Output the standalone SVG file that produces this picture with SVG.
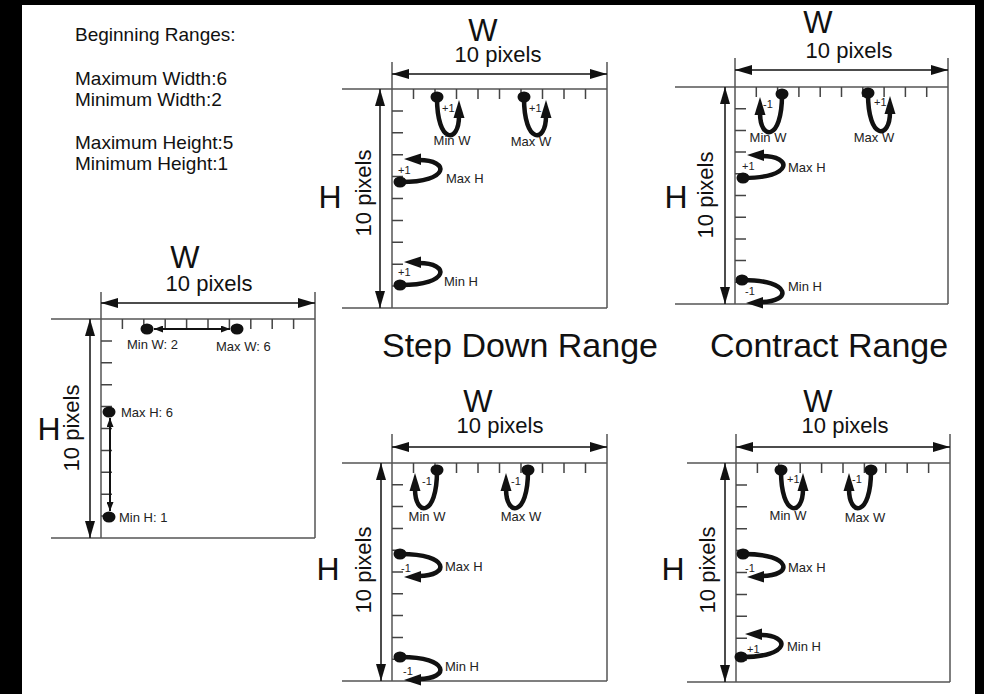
<svg xmlns="http://www.w3.org/2000/svg" width="984" height="694" viewBox="0 0 984 694">
  <style>
    text { font-family: "Liberation Sans", Arial, sans-serif; fill: #111; }
    .box { stroke: #555; stroke-width: 1.5; fill: none; }
    .tick { stroke: #444; stroke-width: 1.5; fill: none; }
    .dim { stroke: #111; stroke-width: 1.5; marker-start: url(#dimArrow); marker-end: url(#dimArrow); }
    .span { stroke: #111; stroke-width: 2; marker-start: url(#smallArrow); marker-end: url(#smallArrow); }
    .big { font-size: 31px; text-anchor: middle; }
    .bigH { font-size: 32px; text-anchor: middle; }
    .px { font-size: 22px; text-anchor: middle; }
    .lbl { font-size: 13px; fill: #222; }
    .mid { text-anchor: middle; }
    .sign { font-size: 11px; fill: #222; }
    .title { font-size: 34px; }
    .note { font-size: 19px; }
    .curve { stroke: #111; stroke-width: 4.5; fill: none; stroke-linecap: round; }
  </style>
  <defs>
    <marker id="dimArrow" viewBox="0 0 17 10" refX="17" refY="5" markerWidth="17" markerHeight="10" markerUnits="userSpaceOnUse" orient="auto-start-reverse">
      <path d="M0,0 L17,5 L0,10 z" fill="#111"/>
    </marker>
    <marker id="smallArrow" viewBox="0 0 9 7" refX="9" refY="3.5" markerWidth="9" markerHeight="7" markerUnits="userSpaceOnUse" orient="auto-start-reverse">
      <path d="M0,0 L9,3.5 L0,7 z" fill="#111"/>
    </marker>
    <!-- width step: dot at origin, loop down, arrow back up on the right -->
    <g id="curlW">
      <ellipse cx="0" cy="0" rx="6.5" ry="5.5" fill="#111"/>
      <path class="curve" d="M0,1 C0,47 22,47 22,19"/>
      <polygon points="22,3 16.5,21 27.5,21" fill="#111"/>
    </g>
    <!-- height step: dot at origin, loop right, arrow back left above -->
    <g id="curlH">
      <ellipse cx="0" cy="0" rx="6.5" ry="5.5" fill="#111"/>
      <path class="curve" d="M1,0 C50,0 50,-22 19,-22"/>
      <polygon points="4,-23 21,-28.5 21,-17" fill="#111"/>
    </g>
  </defs>

  <!-- page -->
  <rect x="0" y="0" width="984" height="694" fill="#000"/>
  <rect x="22" y="5" width="953" height="689" fill="#fff"/>

  <!-- starting ranges -->
  <g id="legend">
    <text class="note" x="75" y="41">Beginning Ranges:</text>
    <text class="note" x="75" y="85">Maximum Width:6</text>
    <text class="note" x="75" y="106">Minimum Width:2</text>
    <text class="note" x="75" y="149">Maximum Height:5</text>
    <text class="note" x="75" y="170">Minimum Height:1</text>
  </g>

  <!-- initial grid -->
  <g id="panel-start">
    <path class="box" d="M51,319 H315 M51,538 H315 M101,292 V538 M315,292 V538"/>
    <path class="tick" d="M122.4,319v10 M143.8,319v10 M165.2,319v10 M186.6,319v10 M208,319v10 M229.4,319v10 M250.8,319v10 M272.2,319v10 M293.6,319v10 M101,340.9h11 M101,362.8h11 M101,384.7h11 M101,406.6h11 M101,428.5h11 M101,450.4h11 M101,472.3h11 M101,494.2h11 M101,516.1h11"/>
    <text class="big" x="185" y="268">W</text>
    <text class="px" x="209" y="291">10 pixels</text>
    <text class="bigH" x="49" y="440">H</text>
    <text class="px" transform="translate(79,428) rotate(-90)">10 pixels</text>
    <text class="lbl" x="127" y="349">Min W: 2</text>
    <text class="lbl" x="216" y="351">Max W: 6</text>
    <text class="lbl" x="121" y="417">Max H: 6</text>
    <text class="lbl" x="119" y="522">Min H: 1</text>
  </g>

  <!-- step down grid (+1) -->
  <g id="panel-stepdown-plus">
    <path class="box" d="M342,89 H607 M342,308 H607 M392,62 V308 M607,62 V308"/>
    <path class="tick" d="M413.5,89v10 M435,89v10 M456.5,89v10 M478,89v10 M499.5,89v10 M521,89v10 M542.5,89v10 M564,89v10 M585.5,89v10 M392,110.9h11 M392,132.8h11 M392,154.7h11 M392,176.6h11 M392,198.5h11 M392,220.4h11 M392,242.3h11 M392,264.2h11 M392,286.1h11"/>
    <text class="big" x="483" y="41">W</text>
    <text class="px" x="498" y="62">10 pixels</text>
    <text class="bigH" x="330" y="208">H</text>
    <text class="px" transform="translate(371,193) rotate(-90)">10 pixels</text>
    <text class="sign" x="442" y="112">+1</text>
    <text class="sign" x="529" y="112">+1</text>
    <text class="sign" x="398" y="174">+1</text>
    <text class="sign" x="398" y="276">+1</text>
    <text class="lbl mid" x="452" y="145">Min W</text>
    <text class="lbl mid" x="531" y="146">Max W</text>
    <text class="lbl" x="446" y="183">Max H</text>
    <text class="lbl" x="444" y="286">Min H</text>
  </g>

  <!-- contract grid -->
  <g id="panel-contract-top">
    <path class="box" d="M675,87 H948 M675,304 H948 M735,58 V304 M948,58 V304"/>
    <path class="tick" d="M756.3,87v10 M777.6,87v10 M798.9,87v10 M820.2,87v10 M841.5,87v10 M862.8,87v10 M884.1,87v10 M905.4,87v10 M926.7,87v10 M735,108.7h11 M735,130.4h11 M735,152.1h11 M735,173.8h11 M735,195.5h11 M735,217.2h11 M735,238.9h11 M735,260.6h11 M735,282.3h11"/>
    <text class="big" x="818" y="33">W</text>
    <text class="px" x="849" y="58">10 pixels</text>
    <text class="bigH" x="676" y="208">H</text>
    <text class="px" transform="translate(713,195) rotate(-90)">10 pixels</text>
    <text class="sign" x="763" y="108">-1</text>
    <text class="sign" x="874" y="106">+1</text>
    <text class="sign" x="742" y="170">+1</text>
    <text class="sign" x="745" y="295">-1</text>
    <text class="lbl mid" x="768" y="142">Min W</text>
    <text class="lbl mid" x="874" y="142">Max W</text>
    <text class="lbl" x="788" y="172">Max H</text>
    <text class="lbl" x="788" y="291">Min H</text>
  </g>

  <!-- step down grid (-1) -->
  <g id="panel-stepdown-minus">
    <path class="box" d="M342,463 H607 M342,681 H607 M392,434 V681 M607,434 V681"/>
    <path class="tick" d="M413.5,463v10 M435,463v10 M456.5,463v10 M478,463v10 M499.5,463v10 M521,463v10 M542.5,463v10 M564,463v10 M585.5,463v10 M392,484.8h11 M392,506.6h11 M392,528.4h11 M392,550.2h11 M392,572h11 M392,593.8h11 M392,615.6h11 M392,637.4h11 M392,659.2h11"/>
    <text class="big" x="478" y="412">W</text>
    <text class="px" x="500" y="433">10 pixels</text>
    <text class="bigH" x="328" y="580">H</text>
    <text class="px" transform="translate(371,570) rotate(-90)">10 pixels</text>
    <text class="sign" x="422" y="485">-1</text>
    <text class="sign" x="511" y="485">-1</text>
    <text class="sign" x="401" y="572">-1</text>
    <text class="sign" x="403" y="675">-1</text>
    <text class="lbl mid" x="427" y="521">Min W</text>
    <text class="lbl mid" x="521" y="521">Max W</text>
    <text class="lbl" x="445" y="571">Max H</text>
    <text class="lbl" x="445" y="671">Min H</text>
  </g>

  <!-- contract grid (mixed) -->
  <g id="panel-contract-bottom">
    <path class="box" d="M687,463 H950 M687,682 H950 M736,434 V682 M950,434 V682"/>
    <path class="tick" d="M757.4,463v10 M778.8,463v10 M800.2,463v10 M821.6,463v10 M843,463v10 M864.4,463v10 M885.8,463v10 M907.2,463v10 M928.6,463v10 M736,484.9h11 M736,506.8h11 M736,528.7h11 M736,550.6h11 M736,572.5h11 M736,594.4h11 M736,616.3h11 M736,638.2h11 M736,660.1h11"/>
    <text class="big" x="818" y="412">W</text>
    <text class="px" x="845" y="433">10 pixels</text>
    <text class="bigH" x="673" y="580">H</text>
    <text class="px" transform="translate(715,570) rotate(-90)">10 pixels</text>
    <text class="sign" x="787" y="483">+1</text>
    <text class="sign" x="852" y="483">-1</text>
    <text class="sign" x="745" y="572">-1</text>
    <text class="sign" x="747" y="653">+1</text>
    <text class="lbl mid" x="788" y="520">Min W</text>
    <text class="lbl mid" x="865" y="522">Max W</text>
    <text class="lbl" x="788" y="572">Max H</text>
    <text class="lbl" x="787" y="651">Min H</text>
  </g>

  <!-- captions -->
  <g id="captions">
    <text class="title" x="382" y="357">Step Down Range</text>
    <text class="title" x="710" y="357">Contract Range</text>
  </g>

  <!-- dimension arrows, range spans and step loops -->
  <g id="connectors">
    <line class="dim" x1="101" y1="303" x2="315" y2="303"/>
    <line class="dim" x1="90" y1="319" x2="90" y2="538"/>
    <line class="dim" x1="392" y1="74" x2="607" y2="74"/>
    <line class="dim" x1="380" y1="89" x2="380" y2="308"/>
    <line class="dim" x1="735" y1="70" x2="948" y2="70"/>
    <line class="dim" x1="725" y1="87" x2="725" y2="304"/>
    <line class="dim" x1="392" y1="447" x2="607" y2="447"/>
    <line class="dim" x1="381" y1="463" x2="381" y2="681"/>
    <line class="dim" x1="736" y1="447" x2="950" y2="447"/>
    <line class="dim" x1="725" y1="463" x2="725" y2="682"/>

    <!-- starting range spans -->
    <ellipse cx="147" cy="329" rx="6.5" ry="5.5" fill="#111"/>
    <ellipse cx="237" cy="329" rx="6.5" ry="5.5" fill="#111"/>
    <line class="span" x1="154" y1="329" x2="230" y2="329"/>
    <ellipse cx="109" cy="412" rx="6.5" ry="5.5" fill="#111"/>
    <ellipse cx="109" cy="517" rx="6.5" ry="5.5" fill="#111"/>
    <line class="span" x1="110" y1="418" x2="110" y2="511"/>

    <!-- step down (+1) -->
    <use href="#curlW" transform="translate(437,97)"/>
    <use href="#curlW" transform="translate(524,97)"/>
    <use href="#curlH" transform="translate(400,182)"/>
    <use href="#curlH" transform="translate(400,285)"/>

    <!-- contract (top) -->
    <use href="#curlW" transform="translate(782,94) scale(-1,1)"/>
    <use href="#curlW" transform="translate(868,93)"/>
    <use href="#curlH" transform="translate(743,178)"/>
    <use href="#curlH" transform="translate(742,280) scale(1,-1)"/>

    <!-- step down (-1) -->
    <use href="#curlW" transform="translate(437,470) scale(-1,1)"/>
    <use href="#curlW" transform="translate(528,470) scale(-1,1)"/>
    <use href="#curlH" transform="translate(400,554) scale(1,-1)"/>
    <use href="#curlH" transform="translate(400,657) scale(1,-1)"/>

    <!-- contract (bottom) -->
    <use href="#curlW" transform="translate(781,470)"/>
    <use href="#curlW" transform="translate(871,470) scale(-1,1)"/>
    <use href="#curlH" transform="translate(743,554) scale(1,-1)"/>
    <use href="#curlH" transform="translate(741,657)"/>
  </g>
</svg>
